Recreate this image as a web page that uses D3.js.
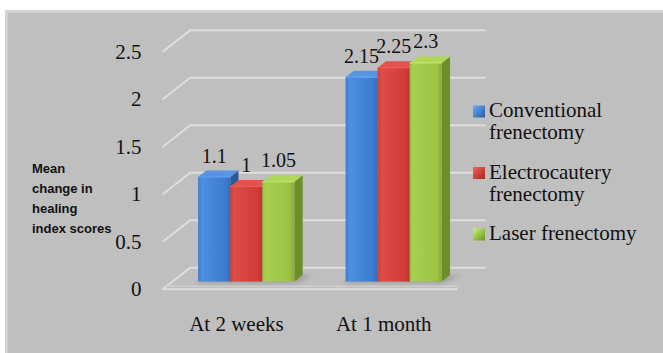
<!DOCTYPE html>
<html>
<head>
<meta charset="utf-8">
<script src="https://cdn.jsdelivr.net/npm/d3@7"></script>
<style>
  html, body { margin: 0; padding: 0; background: #ffffff; }
  svg { display: block; }
</style>
</head>
<body>
<svg id="chart" width="663" height="353"></svg>
<script>
// Chart data
const categories = ["At 2 weeks", "At 1 month"];
const seriesNames = ["Conventional frenectomy", "Electrocautery frenectomy", "Laser frenectomy"];
const legendLines = [["Conventional", "frenectomy"], ["Electrocautery", "frenectomy"], ["Laser frenectomy"]];
const conventional = [1.1, 2.15];
const electrocautery = [1, 2.25];
const laser = [1.05, 2.3];
const yTicks = [0, 0.5, 1, 1.5, 2, 2.5];
const axisTitle = ["Mean", "change in", "healing", "index scores"];

const seriesValues = [conventional, electrocautery, laser];

const SERIF = "Liberation Serif, serif";
const SANS = "Liberation Sans, sans-serif";

// Colours per series: front, top, side
const palette = [
  { front: "#3b7bd0", light: "#4f8fe0", top: "#5894e2", side: "#2a5a9e" },
  { front: "#d23b39", light: "#de4d4a", top: "#e2524f", side: "#9c2927" },
  { front: "#9bc243", light: "#a9cf53", top: "#b0d65c", side: "#6c8e2b" }
];

const svg = d3.select("#chart");
const defs = svg.append("defs");

// Panel background
svg.append("rect")
  .attr("x", 6.5).attr("y", 11.5)
  .attr("width", 700).attr("height", 400)
  .attr("fill", "#bfbfbf")
  .attr("stroke", "#d2d2d2").attr("stroke-width", 3);

// 3D projection: depth d in [0,1] shifts a point up and to the right
const DEPTH_X = 27.5, DEPTH_Y = -21.5;
const proj = (x, y, d) => [x + DEPTH_X * d, y + DEPTH_Y * d];

const plotLeft = 162.7, plotRight = 457.5;
const y = d3.scaleLinear().domain([0, 2.5]).range([289.3, 51.7]);
const x0 = d3.scaleBand().domain(categories).range([plotLeft, plotRight])
  .paddingInner(0.347).paddingOuter(0.1735);
const x1 = d3.scaleBand().domain(d3.range(seriesNames.length)).range([0, x0.bandwidth()]);

// Bar depth placement within the floor
const barD0 = 0.36, barD1 = 0.66;

// Floor shadow blur
const blur = defs.append("filter").attr("id", "soft").attr("x", "-20%").attr("y", "-50%")
  .attr("width", "140%").attr("height", "200%");
blur.append("feGaussianBlur").attr("stdDeviation", 2.2);

// Gradients for bar fronts
palette.forEach((c, i) => {
  const g = defs.append("linearGradient").attr("id", "front" + i)
    .attr("x1", "0").attr("x2", "1").attr("y1", "0").attr("y2", "0");
  g.append("stop").attr("offset", "0").attr("stop-color", c.front);
  g.append("stop").attr("offset", "0.12").attr("stop-color", c.light);
  g.append("stop").attr("offset", "0.85").attr("stop-color", c.front);
  g.append("stop").attr("offset", "1").attr("stop-color", d3.color(c.front).darker(0.35));
});

// Gridlines: front-left point, back-left corner, back wall to the right
const line = d3.line();
const grid = svg.append("g").attr("fill", "none").attr("stroke", "#dedede").attr("stroke-width", 2);
yTicks.forEach(v => {
  const a = proj(plotLeft, y(v), 0);
  const b = proj(plotLeft, y(v), 1);
  const c = proj(plotRight + 0.6, y(v), 1);
  grid.append("path").attr("d", line([a, b, c]));
});
// Front edge of the floor
grid.append("path").attr("d", line([proj(plotLeft, y(0), 0), proj(plotRight, y(0), 0)]));
grid.append("path").attr("stroke", "#cfcfcf").attr("stroke-width", 1.5)
  .attr("d", line([proj(plotLeft + 3, y(0) - 3, 0), proj(plotRight, y(0) - 3, 0)]));

// Shadows under each group
categories.forEach(cat => {
  const xl = x0(cat) - 2, xr = x0(cat) + x0.bandwidth() + 4;
  const pts = [proj(xl, y(0), barD0 - 0.08), proj(xr, y(0), barD0 - 0.08),
               proj(xr + 6, y(0), barD1), proj(xl + 6, y(0), barD1)];
  svg.append("path").attr("d", line(pts) + "Z")
    .attr("fill", "#7a7a7a").attr("opacity", 0.45).attr("filter", "url(#soft)");
});

// Bars (drawn left to right so each covers its neighbour's side face)
const bars = svg.append("g");
categories.forEach((cat, ci) => {
  seriesValues.forEach((vals, si) => {
    const v = vals[ci];
    const c = palette[si];
    const xl = x0(cat) + x1(si), xr = xl + x1.bandwidth();
    const yb = y(0), yt = y(v);
    const f0 = [proj(xl, yb, barD0), proj(xr, yb, barD0), proj(xr, yt, barD0), proj(xl, yt, barD0)];
    const side = [proj(xr, yb, barD0), proj(xr, yb, barD1), proj(xr, yt, barD1), proj(xr, yt, barD0)];
    bars.append("path").attr("d", line(side) + "Z").attr("fill", c.side);
    const top = [proj(xl, yt, barD0), proj(xr, yt, barD0), proj(xr, yt, barD1), proj(xl, yt, barD1)];
    bars.append("path").attr("d", line(top) + "Z").attr("fill", c.top);
    bars.append("rect")
      .attr("x", f0[0][0]).attr("y", f0[3][1])
      .attr("width", xr - xl).attr("height", yb - yt)
      .attr("fill", "url(#front" + si + ")");
    bars.append("path").attr("d", line([f0[3], f0[2]]))
      .attr("stroke", d3.color(c.top).brighter(0.25)).attr("stroke-width", 1.2).attr("fill", "none");
  });
});

// Helper for text in a given family
function addText(parent, x, yPos, str, size, family, anchor) {
  return parent.append("text")
    .attr("x", x).attr("y", yPos)
    .attr("font-size", size)
    .attr("fill", "#111")
    .attr("text-anchor", anchor || "start")
    .style("font-family", family)
    .text(str);
}

// Data labels
const labels = svg.append("g");
categories.forEach((cat, ci) => {
  seriesValues.forEach((vals, si) => {
    const v = vals[ci];
    const xc = x0(cat) + x1(si) + x1.bandwidth() / 2;
    const p = proj(xc, y(v), barD0);
    addText(labels, p[0], p[1] - 14.5, String(v), 20, SERIF, "middle");
  });
});

// Y axis tick labels
const yAxis = svg.append("g");
yTicks.forEach(v => {
  addText(yAxis, 141.5, y(v) + 7, String(v), 21, SERIF, "end");
});

// Category labels
const xAxis = svg.append("g");
categories.forEach(cat => {
  addText(xAxis, x0(cat) + x0.bandwidth() / 2, 331, cat, 21, SERIF, "middle");
});

// Y axis title
const title = svg.append("g");
axisTitle.forEach((t, i) => {
  addText(title, 32, 173 + i * 20, t, 13, SANS, "start").attr("font-weight", "bold");
});

// Legend
const legend = svg.append("g");
const legendY = d3.scalePoint().domain(d3.range(seriesNames.length)).range([117, 240]);
seriesNames.forEach((name, i) => {
  const by = legendY(i);
  const c = palette[i];
  const lg = defs.append("linearGradient").attr("id", "leg" + i)
    .attr("x1", "0").attr("x2", "1").attr("y1", "0").attr("y2", "1");
  lg.append("stop").attr("offset", "0").attr("stop-color", d3.color(c.top).brighter(0.4));
  lg.append("stop").attr("offset", "1").attr("stop-color", c.side);
  legend.append("rect").attr("x", 473).attr("y", by - 11.5).attr("width", 12).attr("height", 12)
    .attr("fill", "url(#leg" + i + ")");
  legendLines[i].forEach((ln, k) => {
    addText(legend, 489, by + k * 22, ln, 21, SERIF, "start");
  });
});
</script>
</body>
</html>
